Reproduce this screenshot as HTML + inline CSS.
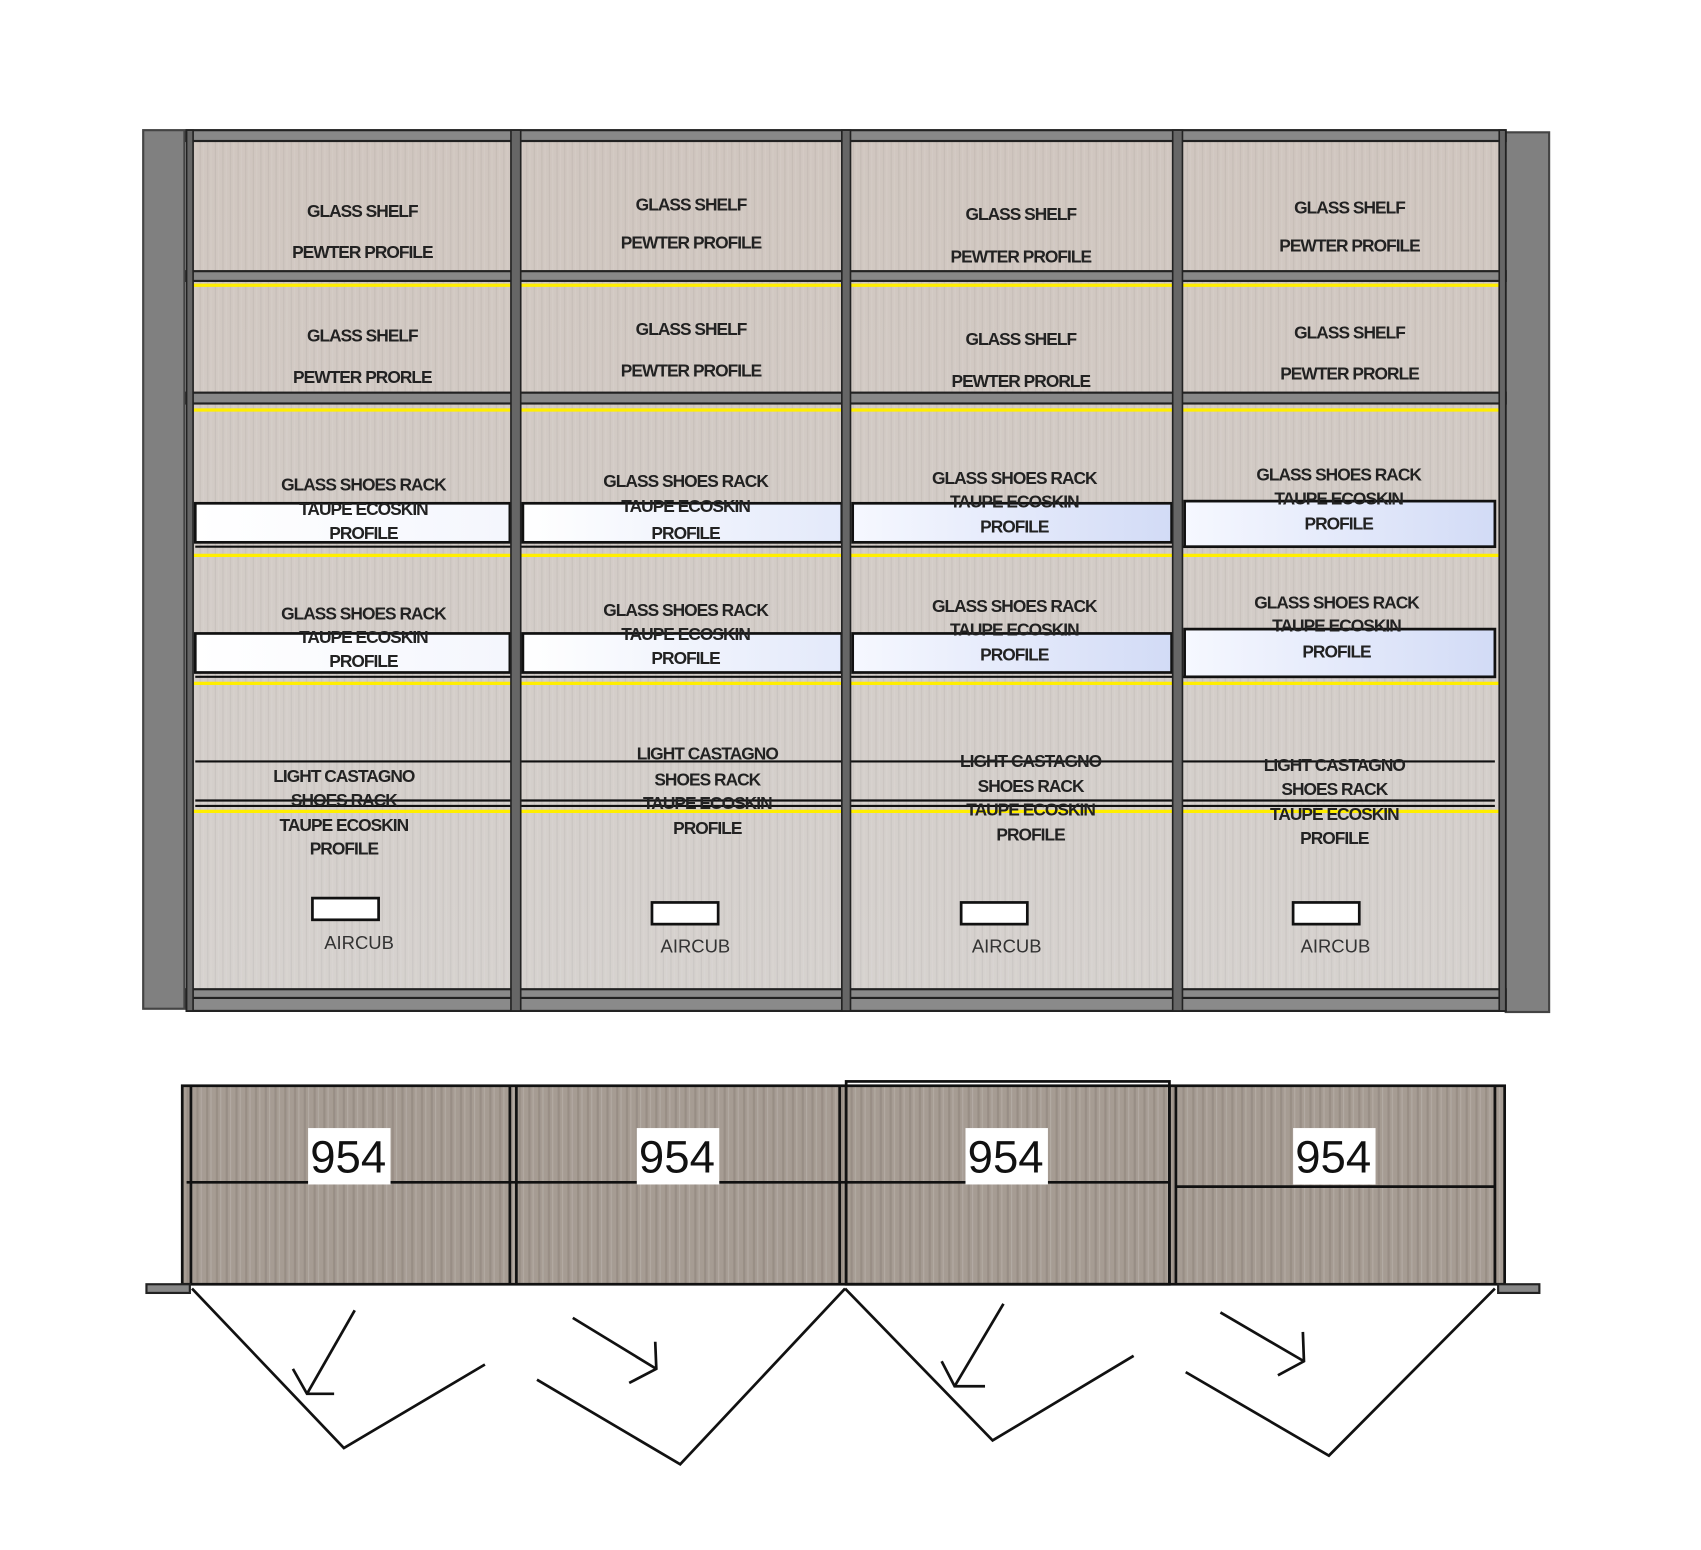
<!DOCTYPE html>
<html><head><meta charset="utf-8"><style>
html,body{margin:0;padding:0;background:#fff;}
svg{display:block}
text{font-family:"Liberation Sans",Arial,sans-serif;}
.t{font-size:16px;font-weight:bold;fill:#222;text-anchor:middle;letter-spacing:-0.9px}
.a{font-size:17px;fill:#333;text-anchor:middle}
.n{font-size:42px;fill:#111;text-anchor:middle}
</style></head><body>
<svg width="1701" height="1550" viewBox="0 0 1568 1429" preserveAspectRatio="none" xmlns="http://www.w3.org/2000/svg">
<defs>
<linearGradient id="wp" x1="0" y1="0" x2="0" y2="1">
<stop offset="0" stop-color="#d0c6bf"/><stop offset="1" stop-color="#d6d2cf"/></linearGradient>
<linearGradient id="w1" x1="0" y1="0" x2="1" y2="0">
<stop offset="0" stop-color="#ffffff"/><stop offset="1" stop-color="#f4f6fd"/></linearGradient>
<linearGradient id="w2" x1="0" y1="0" x2="1" y2="0">
<stop offset="0" stop-color="#ffffff"/><stop offset="1" stop-color="#e3e9fa"/></linearGradient>
<linearGradient id="bl" x1="0" y1="0" x2="1" y2="0">
<stop offset="0" stop-color="#f6f8ff"/><stop offset="1" stop-color="#d2dbf6"/></linearGradient>
<pattern id="grain" width="7" height="10" patternUnits="userSpaceOnUse">
<rect x="2" width="1" height="10" fill="#000" opacity="0.05"/><rect x="5" width="1" height="10" fill="#fff" opacity="0.08"/></pattern>
<pattern id="grain2" width="9" height="10" patternUnits="userSpaceOnUse">
<rect x="1" width="2" height="10" fill="#6f655c" opacity="0.25"/><rect x="5" width="1" height="10" fill="#fff" opacity="0.15"/></pattern>
</defs>

<rect x="132" y="120" width="38" height="810" fill="#808080" stroke="#444" stroke-width="2"/>
<rect x="1388" y="122" width="40" height="811" fill="#808080" stroke="#444" stroke-width="2"/>

<rect x="172" y="120" width="1216" height="812" fill="url(#wp)"/>
<rect x="172" y="120" width="1216" height="812" fill="url(#grain)"/>

<rect x="172" y="120" width="1216" height="10" fill="#888" stroke="#222" stroke-width="2"/>
<rect x="172" y="912" width="1216" height="20" fill="#8a8a8a" stroke="#222" stroke-width="2"/>
<line x1="172" y1="920" x2="1388" y2="920" stroke="#222" stroke-width="2"/>

<g stroke="#222" stroke-width="2" fill="#888">
<rect x="172" y="250" width="1216" height="9"/>
<rect x="172" y="362" width="1216" height="10"/>
</g>
<g stroke="#ffee00" stroke-width="3">
<line x1="178" y1="263" x2="1382" y2="263"/>
<line x1="178" y1="378" x2="1382" y2="378"/>
<line x1="178" y1="512" x2="1382" y2="512"/>
<line x1="178" y1="630" x2="1382" y2="630"/>
<line x1="178" y1="748" x2="1382" y2="748"/>
</g>

<g stroke="#111" stroke-width="2.5">
<rect x="180" y="464" width="290" height="36" fill="url(#w1)"/><rect x="482" y="464" width="294" height="36" fill="url(#w2)"/><rect x="786" y="464" width="294" height="36" fill="url(#bl)"/><rect x="1092" y="462" width="286" height="42" fill="url(#bl)"/>
<rect x="180" y="584" width="290" height="36" fill="url(#w1)"/><rect x="482" y="584" width="294" height="36" fill="url(#w2)"/><rect x="786" y="584" width="294" height="36" fill="url(#bl)"/><rect x="1092" y="580" width="286" height="44" fill="url(#bl)"/>
</g>
<g stroke="#111" stroke-width="2">
<line x1="180" y1="504" x2="1378" y2="504"/><line x1="180" y1="624" x2="1378" y2="624"/>
<line x1="180" y1="702" x2="1378" y2="702"/>
<line x1="180" y1="738" x2="1378" y2="738"/><line x1="180" y1="743" x2="1378" y2="743"/>
</g>

<g fill="#666" stroke="#222" stroke-width="1.5">
<rect x="172" y="120" width="6" height="812"/>
<rect x="471" y="120" width="9" height="812"/>
<rect x="776" y="120" width="8" height="812"/>
<rect x="1081" y="120" width="9" height="812"/>
<rect x="1382" y="120" width="6" height="812"/>
</g>

<g class="t">
<text x="334" y="200">GLASS SHELF</text><text x="334" y="238">PEWTER PROFILE</text>
<text x="637" y="194">GLASS SHELF</text><text x="637" y="229">PEWTER PROFILE</text>
<text x="941" y="203">GLASS SHELF</text><text x="941" y="242">PEWTER PROFILE</text>
<text x="1244" y="197">GLASS SHELF</text><text x="1244" y="232">PEWTER PROFILE</text>
<text x="334" y="315">GLASS SHELF</text><text x="334" y="353">PEWTER PRORLE</text>
<text x="637" y="309">GLASS SHELF</text><text x="637" y="347">PEWTER PROFILE</text>
<text x="941" y="318">GLASS SHELF</text><text x="941" y="357">PEWTER PRORLE</text>
<text x="1244" y="312">GLASS SHELF</text><text x="1244" y="350">PEWTER PRORLE</text>

<text x="335" y="452">GLASS SHOES RACK</text><text x="335" y="475">TAUPE ECOSKIN</text><text x="335" y="497">PROFILE</text>
<text x="632" y="449">GLASS SHOES RACK</text><text x="632" y="472">TAUPE ECOSKIN</text><text x="632" y="497">PROFILE</text>
<text x="935" y="446">GLASS SHOES RACK</text><text x="935" y="468">TAUPE ECOSKIN</text><text x="935" y="491">PROFILE</text>
<text x="1234" y="443">GLASS SHOES RACK</text><text x="1234" y="465">TAUPE ECOSKIN</text><text x="1234" y="488">PROFILE</text>

<text x="335" y="571">GLASS SHOES RACK</text><text x="335" y="593">TAUPE ECOSKIN</text><text x="335" y="615">PROFILE</text>
<text x="632" y="568">GLASS SHOES RACK</text><text x="632" y="590">TAUPE ECOSKIN</text><text x="632" y="612">PROFILE</text>
<text x="935" y="564">GLASS SHOES RACK</text><text x="935" y="586">TAUPE ECOSKIN</text><text x="935" y="609">PROFILE</text>
<text x="1232" y="561">GLASS SHOES RACK</text><text x="1232" y="582">TAUPE ECOSKIN</text><text x="1232" y="606">PROFILE</text>

<text x="317" y="721">LIGHT CASTAGNO</text><text x="317" y="743">SHOES RACK</text><text x="317" y="766">TAUPE ECOSKIN</text><text x="317" y="788">PROFILE</text>
<text x="652" y="700">LIGHT CASTAGNO</text><text x="652" y="724">SHOES RACK</text><text x="652" y="746">TAUPE ECOSKIN</text><text x="652" y="769">PROFILE</text>
<text x="950" y="707">LIGHT CASTAGNO</text><text x="950" y="730">SHOES RACK</text><text x="950" y="752">TAUPE ECOSKIN</text><text x="950" y="775">PROFILE</text>
<text x="1230" y="711">LIGHT CASTAGNO</text><text x="1230" y="733">SHOES RACK</text><text x="1230" y="756">TAUPE ECOSKIN</text><text x="1230" y="778">PROFILE</text>
</g>

<g fill="#fff" stroke="#111" stroke-width="2.5">
<rect x="288" y="828" width="61" height="20"/><rect x="601" y="832" width="61" height="20"/><rect x="886" y="832" width="61" height="20"/><rect x="1192" y="832" width="61" height="20"/>
</g>
<g class="a"><text x="331" y="875">AIRCUB</text><text x="641" y="878">AIRCUB</text><text x="928" y="878">AIRCUB</text><text x="1231" y="878">AIRCUB</text></g>

<rect x="168" y="1001" width="1219" height="183" fill="#a69c93"/>
<rect x="168" y="1001" width="1219" height="183" fill="url(#grain2)"/>
<g fill="none" stroke="#111" stroke-width="2.5">
<rect x="168" y="1001" width="1219" height="183"/>
<rect x="780" y="997" width="298" height="187"/>
<line x1="176" y1="1001" x2="176" y2="1184"/><line x1="1378" y1="1001" x2="1378" y2="1184"/>
<line x1="470" y1="1001" x2="470" y2="1184"/><line x1="476" y1="1001" x2="476" y2="1184"/>
<line x1="774" y1="1001" x2="774" y2="1184"/><line x1="780" y1="1001" x2="780" y2="1184"/>
<line x1="1078" y1="1001" x2="1078" y2="1184"/><line x1="1084" y1="1001" x2="1084" y2="1184"/>
<line x1="172" y1="1090" x2="1078" y2="1090"/><line x1="1084" y1="1094" x2="1378" y2="1094"/>
</g>
<g fill="#fff"><rect x="284" y="1040" width="76" height="52"/><rect x="587" y="1040" width="76" height="52"/><rect x="890" y="1040" width="76" height="52"/><rect x="1192" y="1040" width="76" height="52"/></g>
<g class="n"><text x="321" y="1081">954</text><text x="624" y="1081">954</text><text x="927" y="1081">954</text><text x="1229" y="1081">954</text></g>
<g fill="#888" stroke="#222" stroke-width="2"><rect x="135" y="1184" width="40" height="8"/><rect x="1381" y="1184" width="38" height="8"/></g>

<g fill="none" stroke="#111" stroke-width="2.5">
<polyline points="177,1188 317,1335 447,1258"/>
<polyline points="495,1272 627,1350 779,1188"/>
<polyline points="779,1188 915,1328 1045,1250"/>
<polyline points="1093,1265 1225,1342 1378,1188"/>
<line x1="327" y1="1208" x2="283" y2="1285"/><polyline points="270,1262 283,1285 308,1285"/>
<line x1="528" y1="1215" x2="605" y2="1262"/><polyline points="604,1237 605,1262 580,1275"/>
<line x1="925" y1="1202" x2="880" y2="1278"/><polyline points="868,1255 880,1278 908,1278"/>
<line x1="1125" y1="1210" x2="1202" y2="1255"/><polyline points="1201,1228 1202,1255 1178,1268"/>
</g>
</svg>
</body></html>
